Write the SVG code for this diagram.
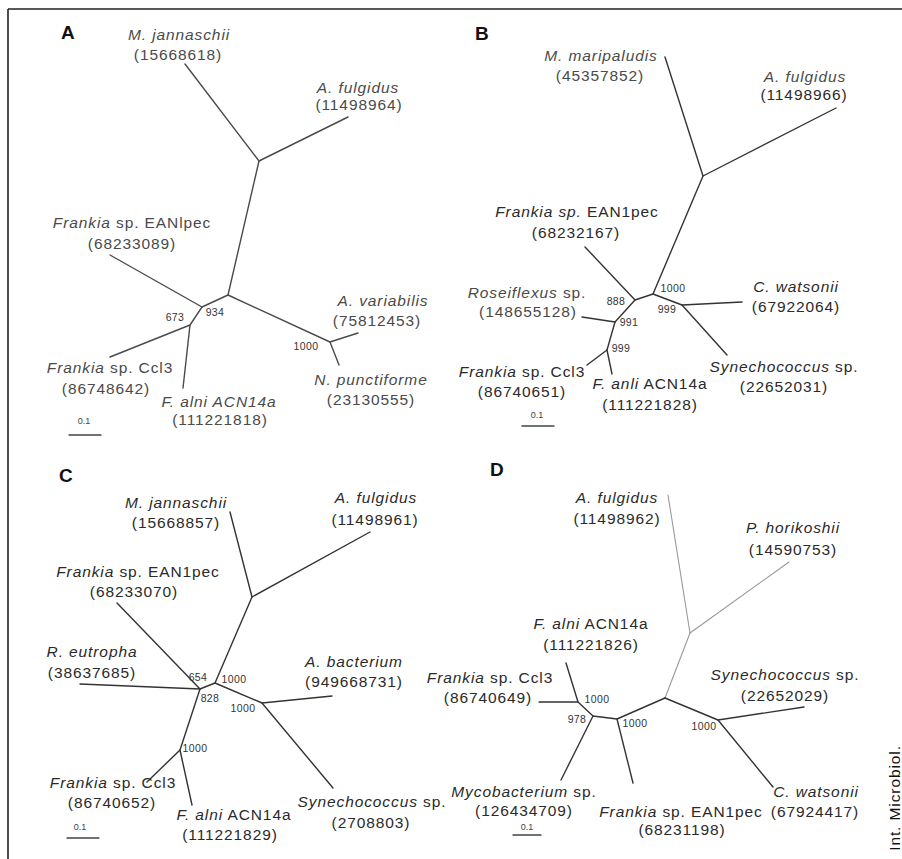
<svg xmlns="http://www.w3.org/2000/svg" width="902" height="859" viewBox="0 0 902 859">
<style>
text{font-family:"Liberation Sans",Arial,sans-serif;}
.t{font-size:15.5px;letter-spacing:0.9px;fill:#2a2a2a;text-anchor:middle;}
.ta{fill:#4a4a4a;}
.i{font-style:italic;}
.b{font-size:10.5px;letter-spacing:0.4px;fill:#333;text-anchor:middle;}
.s{font-size:9px;fill:#444;text-anchor:middle;}
.p{font-size:19px;font-weight:bold;fill:#111;}
.e{stroke:#333;stroke-width:1.4;fill:none;stroke-linecap:round;stroke-linejoin:round;}
.ea{stroke:#4a4a4a;}
.el{stroke:#999;stroke-width:1.1;}
.sb{stroke:#444;stroke-width:1.3;}
</style>
<rect width="902" height="859" fill="#fff"/>
<g id="frame"><path d="M8 9H902M8 9V859" stroke="#222" stroke-width="1.6" fill="none"/></g>

<g id="connectors">
  <!-- Panel A -->
  <g class="e ea">
    <path d="M185 64L259 161L348 117"/>
    <path d="M259 161L228 295L202 307L110 255"/>
    <path d="M202 307L190 325L110 357"/>
    <path d="M190 325L183 388"/>
    <path d="M228 295L330 342L358 333"/>
    <path d="M330 342L339 365"/>
  </g>
  <!-- Panel B -->
  <g class="e">
    <path d="M665 57L703 176L836 108"/>
    <path d="M703 176L653 294L635 300L585 247"/>
    <path d="M653 294L682 305L742 302"/>
    <path d="M682 305L727 355"/>
    <path d="M635 300L615 322L582 317"/>
    <path d="M615 322L607 350L587 365"/>
    <path d="M607 350L612 374"/>
  </g>
  <!-- Panel C -->
  <g class="e">
    <path d="M230 512L252 597L370 532"/>
    <path d="M252 597L215 683L200 689L117 603"/>
    <path d="M80 684L200 689"/>
    <path d="M215 683L262 703L332 696"/>
    <path d="M262 703L333 788"/>
    <path d="M200 689L180 750L147 782"/>
    <path d="M180 750L192 805"/>
  </g>
  <!-- Panel D -->
  <g class="e el">
    <path d="M668 495L690 633L789 562"/>
    <path d="M690 633L665 698"/>
  </g>
  <g class="e">
    <path d="M665 698L617 719L593 716L578 702L566 663"/>
    <path d="M539 702L578 702"/>
    <path d="M593 716L561 780"/>
    <path d="M617 719L633 783"/>
    <path d="M665 698L718 720L804 707"/>
    <path d="M718 720L773 787"/>
  </g>
  <!-- scale bars -->
  <g class="e sb">
    <path d="M69 435H101"/>
    <path d="M522 426H554"/>
    <path d="M67 838H99"/>
    <path d="M513 835H541"/>
  </g>
</g>

<g id="support-values">
  <text class="b" x="175" y="321">673</text>
  <text class="b" x="215" y="316">934</text>
  <text class="b" x="306" y="350">1000</text>
  <text class="b" x="616" y="305">888</text>
  <text class="b" x="673" y="292">1000</text>
  <text class="b" x="667" y="313">999</text>
  <text class="b" x="629" y="326">991</text>
  <text class="b" x="621" y="352">999</text>
  <text class="b" x="198" y="681">654</text>
  <text class="b" x="234" y="683">1000</text>
  <text class="b" x="210" y="702">828</text>
  <text class="b" x="243" y="712">1000</text>
  <text class="b" x="195" y="752">1000</text>
  <text class="b" x="597" y="703">1000</text>
  <text class="b" x="577" y="723">978</text>
  <text class="b" x="635" y="727">1000</text>
  <text class="b" x="704" y="730">1000</text>
</g>

<g id="scale-labels">
  <text class="s" x="84" y="424">0.1</text>
  <text class="s" x="537" y="418">0.1</text>
  <text class="s" x="80" y="830">0.1</text>
  <text class="s" x="527" y="830">0.1</text>
</g>

<g id="panel-labels">
  <text class="p" x="61" y="39">A</text>
  <text class="p" x="475" y="40">B</text>
  <text class="p" x="59" y="482">C</text>
  <text class="p" x="490" y="476">D</text>
</g>

<!-- Panel A nodes -->
<g id="A-mjannaschii"><text class="t ta i" x="179" y="40">M. jannaschii</text><text class="t ta" x="178" y="60">(15668618)</text></g>
<g id="A-afulgidus"><text class="t ta i" x="358" y="93">A. fulgidus</text><text class="t ta" x="359" y="110">(11498964)</text></g>
<g id="A-frankia-ean"><text class="t ta" x="132" y="228"><tspan class="i">Frankia</tspan> sp. EANlpec</text><text class="t ta" x="132" y="249">(68233089)</text></g>
<g id="A-frankia-ccl3"><text class="t ta" x="110" y="373"><tspan class="i">Frankia</tspan> sp. Ccl3</text><text class="t ta" x="106" y="394">(86748642)</text></g>
<g id="A-falni"><text class="t ta i" x="219" y="407">F. alni ACN14a</text><text class="t ta" x="220" y="425">(111221818)</text></g>
<g id="A-avariabilis"><text class="t ta i" x="383" y="306">A. variabilis</text><text class="t ta" x="377" y="326">(75812453)</text></g>
<g id="A-npunctiforme"><text class="t ta i" x="371" y="385">N. punctiforme</text><text class="t ta" x="371" y="405">(23130555)</text></g>

<!-- Panel B nodes -->
<g id="B-mmaripaludis"><text class="t ta i" x="601" y="61">M. maripaludis</text><text class="t ta" x="600" y="81">(45357852)</text></g>
<g id="B-afulgidus"><text class="t ta i" x="805" y="82">A. fulgidus</text><text class="t" x="804" y="100">(11498966)</text></g>
<g id="B-frankia-ean"><text class="t" x="577" y="217"><tspan class="i">Frankia sp.</tspan> EAN1pec</text><text class="t" x="576" y="238">(68232167)</text></g>
<g id="B-roseiflexus"><text class="t ta" x="527" y="298"><tspan class="i">Roseiflexus</tspan> sp.</text><text class="t ta" x="528" y="317">(148655128)</text></g>
<g id="B-frankia-ccl3"><text class="t" x="522" y="377"><tspan class="i">Frankia</tspan> sp. Ccl3</text><text class="t" x="522" y="397">(86740651)</text></g>
<g id="B-fanli"><text class="t" x="650" y="389"><tspan class="i">F. anli</tspan> ACN14a</text><text class="t" x="650" y="410">(111221828)</text></g>
<g id="B-cwatsonii"><text class="t i" x="796" y="292">C. watsonii</text><text class="t" x="796" y="312">(67922064)</text></g>
<g id="B-synechococcus"><text class="t" x="784" y="372"><tspan class="i">Synechococcus</tspan> sp.</text><text class="t" x="784" y="392">(22652031)</text></g>

<!-- Panel C nodes -->
<g id="C-mjannaschii"><text class="t i" x="176" y="508">M. jannaschii</text><text class="t" x="176" y="528">(15668857)</text></g>
<g id="C-afulgidus"><text class="t i" x="376" y="503">A. fulgidus</text><text class="t" x="375" y="525">(11498961)</text></g>
<g id="C-frankia-ean"><text class="t" x="138" y="577"><tspan class="i">Frankia</tspan> sp. EAN1pec</text><text class="t" x="134" y="597">(68233070)</text></g>
<g id="C-reutropha"><text class="t i" x="92" y="657">R. eutropha</text><text class="t" x="92" y="678">(38637685)</text></g>
<g id="C-abacterium"><text class="t i" x="354" y="667">A. bacterium</text><text class="t" x="354" y="687">(949668731)</text></g>
<g id="C-synechococcus"><text class="t" x="372" y="807"><tspan class="i">Synechococcus</tspan> sp.</text><text class="t" x="371" y="828">(2708803)</text></g>
<g id="C-frankia-ccl3"><text class="t" x="113" y="788"><tspan class="i">Frankia</tspan> sp. Ccl3</text><text class="t" x="112" y="808">(86740652)</text></g>
<g id="C-falni"><text class="t" x="234" y="820"><tspan class="i">F. alni</tspan> ACN14a</text><text class="t" x="230" y="840">(111221829)</text></g>

<!-- Panel D nodes -->
<g id="D-afulgidus"><text class="t i" x="617" y="503">A. fulgidus</text><text class="t" x="617" y="524">(11498962)</text></g>
<g id="D-phorikoshii"><text class="t i" x="793" y="533">P. horikoshii</text><text class="t" x="793" y="555">(14590753)</text></g>
<g id="D-falni"><text class="t" x="591" y="629"><tspan class="i">F. alni</tspan> ACN14a</text><text class="t" x="591" y="650">(111221826)</text></g>
<g id="D-frankia-ccl3"><text class="t" x="490" y="683"><tspan class="i">Frankia</tspan> sp. Ccl3</text><text class="t" x="488" y="703">(86740649)</text></g>
<g id="D-synechococcus"><text class="t" x="785" y="680"><tspan class="i">Synechococcus</tspan> sp.</text><text class="t" x="785" y="701">(22652029)</text></g>
<g id="D-mycobacterium"><text class="t" x="524" y="797"><tspan class="i">Mycobacterium</tspan> sp.</text><text class="t" x="524" y="816">(126434709)</text></g>
<g id="D-frankia-ean"><text class="t" x="681" y="817"><tspan class="i">Frankia</tspan> sp. EAN1pec</text><text class="t" x="682" y="835">(68231198)</text></g>
<g id="D-cwatsonii"><text class="t i" x="816" y="797">C. watsonii</text><text class="t" x="815" y="817">(67924417)</text></g>

<g id="credit"><text class="t" transform="translate(900 798) rotate(-90)" x="0" y="0" style="fill:#111">Int. Microbiol.</text></g>
</svg>
